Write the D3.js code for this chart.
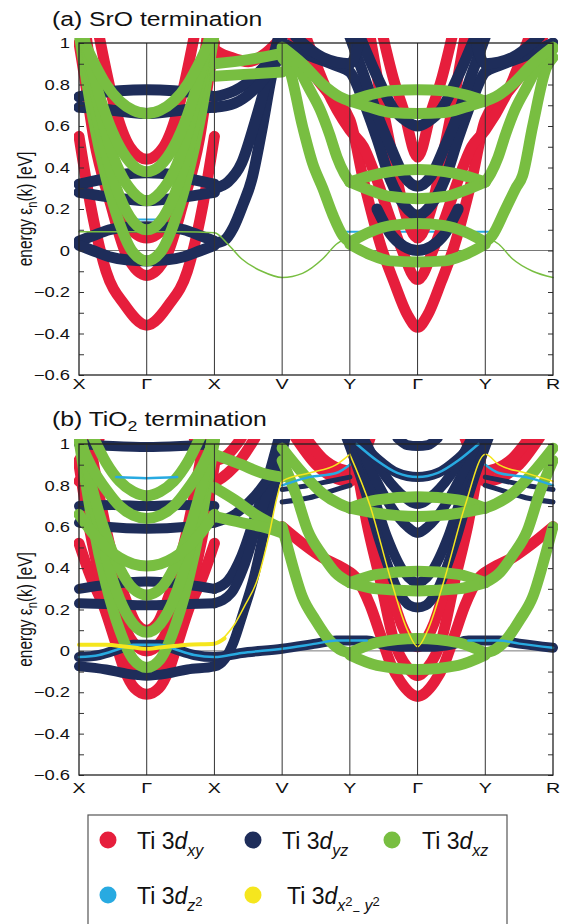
<!DOCTYPE html>
<html>
<head>
<meta charset="utf-8">
<script src="https://cdn.jsdelivr.net/npm/d3@7"></script>
<style>
  body { margin: 0; background: #fff; }
  svg text { font-family: "Liberation Sans", Arial, Helvetica, sans-serif; fill: #111; }
</style>
</head>
<body>
<svg id="chart" width="565" height="924"></svg>
<script>
// k-path labels and energy ticks
const kLabels = ["X", "Γ", "X", "V", "Y", "Γ", "Y", "R"];
const energyTicks = [-0.6, -0.5, -0.4, -0.3, -0.2, -0.1, 0, 0.1, 0.2, 0.3, 0.4, 0.5, 0.6, 0.7, 0.8, 0.9, 1];

// ---- (a) SrO termination : bands as [k, energy] ----
const srO_dxy = [
  [[0,0.55],[0.17,0.22],[0.4,-0.1],[0.67,-0.26],[1,-0.36],[1.33,-0.26],[1.6,-0.1],[1.83,0.22],[2,0.55]],
  [[0,1.0],[0.07,0.86],[0.22,0.54],[0.47,0.22],[0.7,-0.02],[1,-0.12],[1.3,-0.02],[1.53,0.22],[1.78,0.54],[1.93,0.86],[2,1.0]],
  [[0.1,1.05],[0.25,0.7],[0.45,0.35],[0.7,0.13],[1,0.06],[1.3,0.13],[1.55,0.35],[1.75,0.7],[1.9,1.05]],
  [[0.3,1.03],[0.52,0.7],[0.75,0.5],[1,0.44],[1.25,0.5],[1.48,0.7],[1.7,1.03]],
  [[1.9,1.03],[2,0.97],[2.25,0.93],[2.5,0.91],[2.75,0.95],[3,1.03]],
  [[3.15,1.03],[3.4,0.88],[3.7,0.75],[4,0.63],[4.2,0.34],[4.46,0.02],[4.65,-0.15],[4.85,-0.31],[5,-0.37],[5.15,-0.31],[5.35,-0.15],[5.54,0.02],[5.8,0.34],[6,0.63],[6.3,0.75],[6.6,0.88],[6.85,1.03]],
  [[3.35,1.03],[3.65,0.78],[4,0.58],[4.2,0.5],[4.4,0.34],[4.6,0.15],[4.75,0.02],[5,-0.14],[5.25,0.02],[5.4,0.15],[5.6,0.34],[5.8,0.5],[6,0.58],[6.35,0.78],[6.65,1.03]],
  [[4.3,1.03],[4.45,0.75],[4.6,0.5],[4.8,0.2],[5,0.06],[5.2,0.2],[5.4,0.5],[5.55,0.75],[5.7,1.03]],
  [[4.49,1.03],[4.65,0.82],[4.79,0.68],[5,0.45],[5.21,0.68],[5.35,0.82],[5.51,1.03]]
];
const srO_dyz = [
  [[0,0.74],[0.3,0.76],[0.6,0.77],[1,0.775],[1.4,0.77],[1.7,0.76],[2,0.74]],
  [[0,0.69],[0.4,0.68],[1,0.66],[1.6,0.68],[2,0.69]],
  [[0,0.32],[0.3,0.34],[0.6,0.365],[1,0.375],[1.4,0.365],[1.7,0.34],[2,0.32]],
  [[0,0.28],[0.4,0.26],[1,0.24],[1.6,0.26],[2,0.28]],
  [[0,0.045],[0.2,0.07],[0.45,0.1],[0.7,0.112],[1,0.115],[1.3,0.112],[1.55,0.1],[1.8,0.07],[2,0.045]],
  [[0,0.025],[0.2,0.0],[0.45,-0.03],[0.7,-0.045],[1,-0.05],[1.3,-0.045],[1.55,-0.03],[1.8,0.0],[2,0.025]],
  [[2,0.035],[2.15,0.05],[2.28,0.11],[2.42,0.22],[2.55,0.34],[2.7,0.58],[2.85,0.85],[3,1.03]],
  [[2,0.3],[2.2,0.33],[2.4,0.42],[2.6,0.62],[2.8,0.85],[2.95,1.03]],
  [[2,0.74],[2.3,0.77],[2.6,0.84],[2.85,0.93],[3,1.0]],
  [[2,0.69],[2.3,0.71],[2.6,0.78],[2.9,0.9],[3,0.95]],
  [[3,1.0],[3.4,0.94],[3.8,0.89],[4,0.86],[4.2,0.72],[4.4,0.54],[4.6,0.34],[4.8,0.22],[5,0.17],[5.2,0.22],[5.4,0.34],[5.6,0.54],[5.8,0.72],[6,0.86],[6.2,0.89],[6.6,0.94],[7,1.0]],
  [[4,1.03],[4.2,0.85],[4.4,0.66],[4.6,0.5],[4.8,0.36],[5,0.31],[5.2,0.36],[5.4,0.5],[5.6,0.66],[5.8,0.85],[6,1.03]],
  [[4.15,1.03],[4.4,0.84],[4.65,0.68],[4.85,0.62],[5,0.6],[5.15,0.62],[5.35,0.68],[5.6,0.84],[5.85,1.03]],
  [[4.4,0.2],[4.6,0.08],[4.8,0.02],[5,0.0],[5.2,0.02],[5.4,0.08],[5.6,0.2]],
  [[3.2,1.03],[3.6,0.93],[4,0.9],[4.1,0.96],[4.15,1.03]],
  [[5.85,1.03],[5.9,0.96],[6,0.9],[6.4,0.93],[6.8,1.03]]
];
const srO_dxz = [
  [[0,1.05],[0.2,0.65],[0.4,0.35],[0.6,0.13],[0.8,-0.01],[1,-0.05],[1.2,-0.01],[1.4,0.13],[1.6,0.35],[1.8,0.65],[2,1.05]],
  [[0,1.1],[0.2,0.74],[0.4,0.46],[0.6,0.26],[0.8,0.14],[1,0.1],[1.2,0.14],[1.4,0.26],[1.6,0.46],[1.8,0.74],[2,1.1]],
  [[0,1.14],[0.2,0.82],[0.4,0.56],[0.6,0.38],[0.8,0.28],[1,0.24],[1.2,0.28],[1.4,0.38],[1.6,0.56],[1.8,0.82],[2,1.14]],
  [[0,1.13],[0.2,0.86],[0.4,0.65],[0.6,0.5],[0.8,0.41],[1,0.38],[1.2,0.41],[1.4,0.5],[1.6,0.65],[1.8,0.86],[2,1.13]],
  [[0,1.06],[0.2,0.92],[0.4,0.8],[0.6,0.72],[0.8,0.676],[1,0.66],[1.2,0.676],[1.4,0.72],[1.6,0.8],[1.8,0.92],[2,1.06]],
  [[2,0.84],[2.5,0.85],[3,0.86]],
  [[2,0.9],[2.5,0.92],[3,0.95]],
  [[3,0.93],[3.1,0.88],[3.3,0.6],[3.45,0.42],[3.6,0.3],[3.75,0.17],[3.9,0.07],[4,0.04]],
  [[3,0.97],[3.2,0.9],[3.4,0.78],[3.56,0.68],[3.7,0.56],[3.81,0.45],[3.92,0.37],[4,0.33]],
  [[3,0.98],[3.3,0.9],[3.6,0.8],[3.85,0.74],[4,0.72]],
  [[4,0.72],[4.3,0.75],[4.6,0.77],[5,0.775],[5.4,0.77],[5.7,0.75],[6,0.72]],
  [[4,0.72],[4.3,0.69],[4.6,0.665],[5,0.66],[5.4,0.665],[5.7,0.69],[6,0.72]],
  [[4,0.33],[4.3,0.36],[4.6,0.38],[5,0.39],[5.4,0.38],[5.7,0.36],[6,0.33]],
  [[4,0.33],[4.3,0.29],[4.6,0.26],[5,0.25],[5.4,0.26],[5.7,0.29],[6,0.33]],
  [[4,0.04],[4.3,0.09],[4.6,0.12],[5,0.13],[5.4,0.12],[5.7,0.09],[6,0.04]],
  [[4,0.03],[4.3,-0.02],[4.6,-0.05],[5,-0.055],[5.4,-0.05],[5.7,-0.02],[6,0.03]],
  [[6,0.04],[6.1,0.07],[6.3,0.2],[6.45,0.3],[6.55,0.36],[6.7,0.6],[6.9,0.88],[7,0.93]],
  [[6,0.33],[6.08,0.37],[6.19,0.45],[6.3,0.56],[6.44,0.68],[6.6,0.78],[6.8,0.9],[7,0.97]],
  [[6,0.72],[6.15,0.74],[6.4,0.8],[6.7,0.9],[7,0.98]]
];
const srO_dxzThin = [
  [[0,0.09],[0.5,0.09],[1,0.09],[1.5,0.09],[2,0.085],[2.2,0.03],[2.4,-0.04],[2.7,-0.1],[3,-0.13],[3.3,-0.11],[3.6,-0.04],[3.8,0.03],[3.95,0.06]],
  [[6.05,0.06],[6.2,0.03],[6.4,-0.04],[6.7,-0.1],[7,-0.13]]
];
const srO_dz2Thin = [
  [[3.95,0.09],[5,0.09],[6.05,0.09]],
  [[0.85,0.15],[1,0.15],[1.15,0.15]]
];

// ---- (b) TiO2 termination ----
const tiO2_dxy = [
  [[0,0.52],[0.17,0.36],[0.37,0.21],[0.55,0.03],[0.67,-0.09],[0.82,-0.18],[1,-0.21],[1.18,-0.18],[1.33,-0.09],[1.45,0.03],[1.63,0.21],[1.83,0.36],[2,0.52]],
  [[0,0.9],[0.15,0.6],[0.35,0.3],[0.55,0.07],[0.75,-0.06],[1,-0.11],[1.25,-0.06],[1.45,0.07],[1.65,0.3],[1.85,0.6],[2,0.9]],
  [[0.05,1.03],[0.2,0.72],[0.4,0.42],[0.6,0.18],[0.8,0.04],[1,0.0],[1.2,0.04],[1.4,0.18],[1.6,0.42],[1.8,0.72],[1.95,1.03]],
  [[0.15,1.03],[0.3,0.75],[0.5,0.45],[0.7,0.24],[0.85,0.13],[1,0.1],[1.15,0.13],[1.3,0.24],[1.5,0.45],[1.7,0.75],[1.85,1.03]],
  [[0,0.82],[0.15,0.88],[0.3,1.03]],
  [[0,0.92],[0.2,1.03]],
  [[1.7,1.03],[1.85,0.88],[2,0.82],[2.2,0.86],[2.4,0.93],[2.6,1.03]],
  [[1.8,1.03],[2,0.92],[2.2,0.95],[2.4,1.03]],
  [[3,0.6],[3.3,0.52],[3.6,0.45],[3.9,0.4],[4.1,0.35],[4.3,0.22],[4.45,0.08],[4.6,-0.06],[4.75,-0.15],[5,-0.22],[5.25,-0.15],[5.4,-0.06],[5.55,0.08],[5.7,0.22],[5.9,0.35],[6.1,0.4],[6.4,0.45],[6.7,0.52],[7,0.6]],
  [[4,1.03],[4.12,0.85],[4.25,0.62],[4.45,0.34],[4.65,0.05],[4.85,-0.08],[5,-0.12],[5.15,-0.08],[5.35,0.05],[5.55,0.34],[5.75,0.62],[5.88,0.85],[6,1.03]],
  [[4.2,1.03],[4.3,0.82],[4.4,0.6],[4.6,0.3],[4.8,0.1],[5,0.02],[5.2,0.1],[5.4,0.3],[5.6,0.6],[5.7,0.82],[5.8,1.03]],
  [[3.2,1.03],[3.5,0.9],[3.75,0.84],[4,0.82],[4.15,0.9],[4.3,1.03]],
  [[3.35,1.03],[3.6,0.93],[3.85,0.88],[4,0.87],[4.2,1.03]],
  [[5.7,1.03],[5.85,0.9],[6,0.82],[6.25,0.84],[6.5,0.9],[6.8,1.03]],
  [[5.8,1.03],[6,0.87],[6.15,0.88],[6.4,0.93],[6.65,1.03]]
];
const tiO2_dyz = [
  [[0,1.0],[0.5,0.99],[1,0.985],[1.5,0.99],[2,1.0]],
  [[0,0.7],[0.5,0.705],[1,0.7],[1.5,0.705],[2,0.7]],
  [[0,0.62],[0.4,0.6],[1,0.59],[1.6,0.6],[2,0.62]],
  [[0,0.3],[0.4,0.32],[1,0.335],[1.6,0.32],[2,0.3]],
  [[0,0.23],[0.5,0.225],[1,0.22],[1.5,0.225],[2,0.23]],
  [[0,-0.03],[0.3,-0.02],[0.6,0.01],[0.8,0.03],[1,0.03],[1.2,0.03],[1.4,0.01],[1.7,-0.02],[2,-0.03],[2.4,-0.01],[3,0.01],[3.5,0.035],[3.8,0.05],[4.25,0.05],[4.5,0.03],[4.75,0.02],[5,0.02],[5.25,0.02],[5.5,0.03],[5.75,0.05],[6.2,0.05],[6.5,0.035],[7,0.015]],
  [[0,-0.075],[0.4,-0.09],[0.7,-0.11],[1,-0.12],[1.3,-0.11],[1.6,-0.09],[2,-0.075],[2.15,-0.04],[2.28,0.04],[2.42,0.18],[2.57,0.34],[2.75,0.6],[2.9,0.82],[3.05,1.03]],
  [[2,0.3],[2.2,0.34],[2.4,0.46],[2.6,0.65],[2.8,0.85],[2.95,1.03]],
  [[2,0.23],[2.25,0.28],[2.45,0.42],[2.65,0.63],[2.85,0.82],[3,0.92]],
  [[2,0.62],[2.3,0.66],[2.6,0.75],[2.85,0.85],[3,0.88]],
  [[4.05,1.03],[4.3,0.8],[4.55,0.55],[4.8,0.38],[5,0.33],[5.2,0.38],[5.45,0.55],[5.7,0.8],[5.95,1.03]],
  [[3.95,1.03],[4.2,0.8],[4.45,0.52],[4.7,0.3],[4.88,0.22],[5,0.21],[5.12,0.22],[5.3,0.3],[5.55,0.52],[5.8,0.8],[6.05,1.03]],
  [[4.1,1.03],[4.35,0.85],[4.6,0.7],[4.85,0.6],[5,0.57],[5.15,0.6],[5.4,0.7],[5.65,0.85],[5.9,1.03]],
  [[4.2,1.03],[4.45,0.88],[4.75,0.76],[5,0.71],[5.25,0.76],[5.55,0.88],[5.8,1.03]],
  [[4.1,1.03],[4.4,0.93],[4.7,0.86],[5,0.84],[5.3,0.86],[5.6,0.93],[5.9,1.03]],
  [[4.7,1.03],[4.85,0.995],[5,0.99],[5.15,0.995],[5.3,1.03]]
];
const tiO2_dyzThin = [
  [[3,0.72],[3.4,0.74],[3.7,0.77],[4,0.8]],
  [[3,0.78],[3.4,0.8],[3.7,0.82],[4,0.84]],
  [[6,0.8],[6.3,0.77],[6.6,0.74],[7,0.72]],
  [[6,0.84],[6.3,0.82],[6.6,0.8],[7,0.78]]
];
const tiO2_dxz = [
  [[0,1.02],[0.2,0.62],[0.4,0.32],[0.6,0.1],[0.8,-0.04],[1,-0.08],[1.2,-0.04],[1.4,0.1],[1.6,0.32],[1.8,0.62],[2,1.02]],
  [[0,1.09],[0.2,0.73],[0.4,0.45],[0.6,0.25],[0.8,0.13],[1,0.09],[1.2,0.13],[1.4,0.25],[1.6,0.45],[1.8,0.73],[2,1.09]],
  [[0,1.07],[0.2,0.78],[0.4,0.56],[0.6,0.4],[0.8,0.3],[1,0.27],[1.2,0.3],[1.4,0.4],[1.6,0.56],[1.8,0.78],[2,1.07]],
  [[0,0.66],[0.2,0.57],[0.4,0.5],[0.6,0.45],[0.8,0.42],[1,0.41],[1.2,0.42],[1.4,0.45],[1.6,0.5],[1.8,0.57],[2,0.66]],
  [[0,1.02],[0.2,0.88],[0.4,0.78],[0.6,0.7],[0.8,0.655],[1,0.64],[1.2,0.655],[1.4,0.7],[1.6,0.78],[1.8,0.88],[2,1.02]],
  [[0.2,1.04],[0.4,0.91],[0.6,0.82],[0.8,0.77],[1,0.75],[1.2,0.77],[1.4,0.82],[1.6,0.91],[1.8,1.04]],
  [[2,0.79],[2.3,0.73],[2.6,0.66],[3,0.59]],
  [[2,0.65],[2.4,0.62],[2.7,0.6],[3,0.57]],
  [[2,0.95],[2.4,0.9],[2.7,0.86],[3,0.84]],
  [[3,0.92],[3.2,0.76],[3.38,0.58],[3.6,0.46],[3.78,0.38],[4,0.33]],
  [[3,0.6],[3.09,0.49],[3.3,0.26],[3.49,0.15],[3.7,0.05],[3.89,0.0],[4,-0.01]],
  [[3,0.98],[3.3,0.86],[3.6,0.76],[3.85,0.71],[4,0.69]],
  [[4,0.69],[4.4,0.73],[5,0.745],[5.6,0.73],[6,0.69]],
  [[4,0.69],[4.4,0.665],[5,0.65],[5.6,0.665],[6,0.69]],
  [[4,0.33],[4.4,0.37],[5,0.385],[5.6,0.37],[6,0.33]],
  [[4,0.33],[4.4,0.3],[5,0.29],[5.6,0.3],[6,0.33]],
  [[4,-0.01],[4.4,0.04],[5,0.06],[5.6,0.04],[6,-0.01]],
  [[4,-0.02],[4.4,-0.07],[5,-0.09],[5.6,-0.07],[6,-0.02]],
  [[6,0.33],[6.22,0.38],[6.4,0.46],[6.62,0.58],[6.8,0.76],[7,0.92]],
  [[6,-0.01],[6.11,0.0],[6.3,0.05],[6.51,0.15],[6.7,0.26],[6.91,0.49],[7,0.6]],
  [[6,0.69],[6.15,0.71],[6.4,0.76],[6.7,0.86],[7,0.98]]
];
const tiO2_dz2Thin = [
  [[0.55,0.84],[1,0.835],[1.45,0.84]],
  [[0,-0.03],[0.3,-0.02],[0.6,0.01],[0.8,0.03],[1,0.03],[1.2,0.03],[1.4,0.01],[1.7,-0.02],[2,-0.03],[2.4,-0.01],[3,0.01],[3.5,0.035],[3.8,0.05],[4.25,0.05]],
  [[5.75,0.05],[6.2,0.05],[6.5,0.035],[7,0.015]],
  [[4.1,1.0],[4.4,0.92],[4.7,0.86],[5,0.84],[5.3,0.86],[5.6,0.92],[5.9,1.0]],
  [[3,0.8],[3.4,0.84],[3.8,0.86],[4,0.9]],
  [[6,0.9],[6.2,0.86],[6.6,0.84],[7,0.8]]
];
const tiO2_dx2y2 = [
  [[0,0.03],[0.4,0.03],[0.7,0.02],[1,0.01],[1.3,0.02],[1.6,0.03],[2,0.035],[2.15,0.06]]
];
const tiO2_dx2y2Thin = [
  [[2.1,0.05],[2.3,0.13],[2.45,0.22],[2.63,0.34],[2.8,0.55],[2.93,0.75],[3,0.82],[3.4,0.86],[3.8,0.9],[4,0.95]],
  [[4,0.95],[4.3,0.7],[4.6,0.35],[4.85,0.1],[5,0.02],[5.15,0.1],[5.4,0.35],[5.7,0.7],[6,0.95],[6.2,0.9],[6.6,0.86],[7,0.82]]
];

const colors = { xy: "#e61e3c", yz: "#1e2d5a", xz: "#78be41", z2: "#28aae1", x2y2: "#f5e61e" };
const SX = 1.27; // the figure text is stretched horizontally

const svg = d3.select("#chart");
const x = d3.scaleLinear().domain([0, 7]).range([79, 553]);

const panels = [
  { id: "a", top: 43, bottom: 375, titleY: 26, labelY: 389,
    layers: [
      { data: srO_dz2Thin, color: colors.z2, w: 2 },
      { data: srO_dxy, color: colors.xy, w: 11 },
      { data: srO_dyz, color: colors.yz, w: 11 },
      { data: srO_dxz, color: colors.xz, w: 11 },
      { data: srO_dxzThin, color: colors.xz, w: 1.5 }
    ] },
  { id: "b", top: 444, bottom: 775, titleY: 426, labelY: 793,
    layers: [
      { data: tiO2_dxy, color: colors.xy, w: 11 },
      { data: tiO2_dyz, color: colors.yz, w: 10 },
      { data: tiO2_dyzThin, color: colors.yz, w: 5 },
      { data: tiO2_dxz, color: colors.xz, w: 11 },
      { data: tiO2_dz2Thin, color: colors.z2, w: 2.5 },
      { data: tiO2_dx2y2, color: colors.x2y2, w: 4 },
      { data: tiO2_dx2y2Thin, color: colors.x2y2, w: 1.5 }
    ] }
];

const drawPanel = (p) => {
  const y = d3.scaleLinear().domain([-0.6, 1]).range([p.bottom, p.top]);
  const g = svg.append("g");

  g.append("clipPath").attr("id", "clip-" + p.id)
    .append("rect")
      .attr("x", x(0) - 5).attr("y", y(1) - 5)
      .attr("width", x(7) - x(0) + 10).attr("height", y(-0.6) - y(1) + 5);

  // zero line
  g.append("line")
    .attr("x1", x(0)).attr("x2", x(7))
    .attr("y1", y(0)).attr("y2", y(0))
    .attr("stroke", "#555").attr("stroke-width", 0.8);

  const line = d3.line()
    .x(d => x(d[0]))
    .y(d => y(d[1]))
    .curve(d3.curveMonotoneX);

  const bands = g.append("g").attr("clip-path", `url(#clip-${p.id})`);
  p.layers.forEach(layer => {
    bands.append("g")
      .selectAll("path")
      .data(layer.data)
      .join("path")
        .attr("d", line)
        .attr("fill", "none")
        .attr("stroke", layer.color)
        .attr("stroke-width", layer.w)
        .attr("stroke-linecap", "round")
        .attr("stroke-linejoin", "round");
  });

  // high-symmetry lines
  g.append("g").selectAll("line")
    .data(d3.range(1, 7))
    .join("line")
      .attr("x1", d => x(d)).attr("x2", d => x(d))
      .attr("y1", y(1)).attr("y2", y(-0.6))
      .attr("stroke", "#333").attr("stroke-width", 1);

  // axes with inward ticks
  const left = g.append("g")
    .attr("transform", `translate(${x(0)},0)`)
    .call(d3.axisLeft(y).tickValues(energyTicks).tickSize(-5).tickPadding(9)
      .tickFormat(d => Math.round(d * 10) % 2 === 0 ? d3.format("")(d) : ""));
  left.select(".domain").remove();
  left.selectAll("text")
    .attr("font-size", 14.5)
    .attr("transform", `scale(${SX},1)`)
    .attr("x", -9 / SX)
    .style("font-family", "'Liberation Sans', Arial, sans-serif");
  left.selectAll("line").attr("stroke", "#333");

  const right = g.append("g")
    .attr("transform", `translate(${x(7)},0)`)
    .call(d3.axisRight(y).tickValues(energyTicks).tickSize(-5).tickFormat(""));
  right.select(".domain").remove();
  right.selectAll("line").attr("stroke", "#333");

  // frame
  g.append("rect")
    .attr("x", x(0)).attr("y", y(1))
    .attr("width", x(7) - x(0)).attr("height", y(-0.6) - y(1))
    .attr("fill", "none").attr("stroke", "#222").attr("stroke-width", 1.3);

  // k labels
  g.append("g").selectAll("text")
    .data(kLabels)
    .join("text")
      .attr("transform", (d, i) => `translate(${x(i)},${p.labelY}) scale(${SX},1)`)
      .attr("text-anchor", "middle")
      .attr("font-size", 15.5)
      .text(d => d);

  // y title
  const yt = g.append("text")
    .attr("transform", `translate(32,${(y(1) + y(-0.6)) / 2}) scale(${SX},1) rotate(-90)`)
    .attr("text-anchor", "middle")
    .attr("font-size", 15.5);
  yt.append("tspan").text("energy ε");
  yt.append("tspan").attr("font-size", 11).attr("dy", 4).text("n");
  yt.append("tspan").attr("dy", -4).text("(k) [eV]");

  // panel title
  const t = g.append("text")
    .attr("transform", `translate(52,${p.titleY}) scale(${SX},1)`)
    .attr("font-size", 19.5);
  if (p.id === "a") {
    t.text("(a) SrO termination");
  } else {
    t.append("tspan").text("(b) TiO");
    t.append("tspan").attr("font-size", 14).attr("dy", 5).text("2");
    t.append("tspan").attr("dy", -5).text(" termination");
  }
};

panels.forEach(drawPanel);

// legend
const legendItems = [
  { color: colors.xy, cx: 108, cy: 840, tx: 137, sub: [["xy", 0]] },
  { color: colors.yz, cx: 253, cy: 840, tx: 282, sub: [["yz", 0]] },
  { color: colors.xz, cx: 392, cy: 840, tx: 422, sub: [["xz", 0]] },
  { color: colors.z2, cx: 108, cy: 895, tx: 137, sub: [["z", 0], ["2", -5]] },
  { color: colors.x2y2, cx: 253, cy: 895, tx: 287, sub: [["x", 0], ["2", -5], ["−", 5], [" y", 0], ["2", -5]] }
];

svg.append("rect")
  .attr("x", 88).attr("y", 815)
  .attr("width", 419).attr("height", 130)
  .attr("fill", "none").attr("stroke", "#555").attr("stroke-width", 1.2);

const leg = svg.append("g");
legendItems.forEach(item => {
  leg.append("circle")
    .attr("cx", item.cx).attr("cy", item.cy).attr("r", 8.5)
    .attr("fill", item.color);
  const txt = leg.append("text")
    .attr("x", item.tx).attr("y", item.cy + 9)
    .attr("font-size", 23);
  txt.append("tspan").text("Ti 3");
  txt.append("tspan").attr("font-style", "italic").text("d");
  item.sub.forEach(([s, rise], i) => {
    const isNum = s === "2" || s === "−";
    txt.append("tspan")
      .attr("font-size", isNum ? 13 : 16)
      .attr("font-style", isNum ? "normal" : "italic")
      .attr("dy", i === 0 ? 7 : rise - item.sub[i - 1][1])
      .text(s);
  });
});
</script>
</body>
</html>
